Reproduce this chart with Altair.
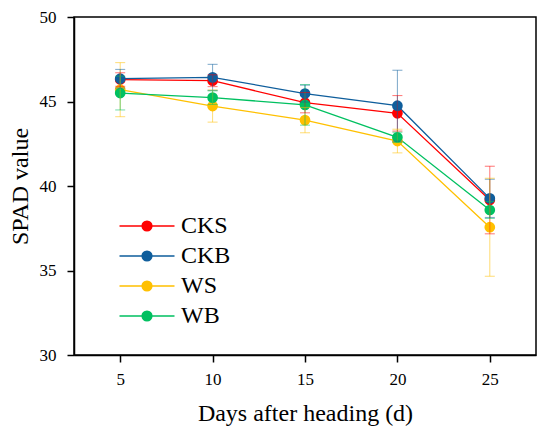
import altair as alt
import pandas as pd

days = [5, 10, 15, 20, 25]
series = ["CKS", "CKB", "WS", "WB"]
colors = ["#FF0000", "#0F5E9C", "#FFC000", "#00C060"]

cks = [46.30, 46.23, 44.93, 44.30, 39.17]
ckb = [46.35, 46.43, 45.47, 44.75, 39.27]
ws = [45.70, 44.73, 43.90, 42.66, 37.56]
wb = [45.50, 45.23, 44.80, 42.88, 38.58]

cks_err = [0.40, 0.35, 0.60, 1.05, 2.00]
ckb_err = [0.55, 0.77, 0.50, 2.10, 1.13]
ws_err = [1.60, 0.95, 0.75, 0.70, 2.90]
wb_err = [1.00, 0.40, 1.20, 0.30, 0.50]

vals = {"CKS": cks, "CKB": ckb, "WS": ws, "WB": wb}
errs = {"CKS": cks_err, "CKB": ckb_err, "WS": ws_err, "WB": wb_err}

rows = []
for s in series:
    for d, v, e in zip(days, vals[s], errs[s]):
        rows.append({"day": d, "value": v, "err": e, "group": s})
df = pd.DataFrame(rows)

FONT = "Liberation Serif"

x = alt.X("day:Q", title="Days after heading (d)",
          scale=alt.Scale(domain=[2.5, 27.5], nice=False, zero=False),
          axis=alt.Axis(values=days, grid=False, labelFont=FONT, titleFont=FONT,
                        labelFontSize=17, titleFontSize=24,
                        labelPadding=9, titlePadding=14, tickSize=7))
y = alt.Y("value:Q", title="SPAD value",
          scale=alt.Scale(domain=[30, 50], nice=False, zero=False),
          axis=alt.Axis(values=[30, 35, 40, 45, 50], grid=False, labelFont=FONT,
                        titleFont=FONT, labelFontSize=17,
                        titleFontSize=24, labelPadding=11, titlePadding=7, tickSize=7))

legend_symbol = "M-5,0L5,0M0.9,0A0.9,0.9 0 1,1 -0.9,0A0.9,0.9 0 1,1 0.9,0Z"


def make_legend():
    return alt.Legend(orient="none", legendX=61, legendY=197, title=None,
                      symbolType=legend_symbol, symbolSize=121,
                      symbolStrokeWidth=1.3, symbolOpacity=1,
                      labelFontSize=24, labelFont=FONT, labelOffset=22,
                      labelColor="black", rowPadding=6)


stroke_scale = alt.Scale(domain=series, range=colors)
fill_scale = alt.Scale(domain=series, range=colors)

base = alt.Chart(df)

lines = base.mark_line(strokeWidth=1.3).encode(
    x=x, y=y,
    stroke=alt.Stroke("group:N", scale=stroke_scale, sort=series, legend=make_legend()),
    detail="group:N",
)

points = base.mark_point(filled=True, shape="circle", size=115, opacity=1, strokeWidth=0).encode(
    x="day:Q", y="value:Q",
    fill=alt.Fill("group:N", scale=fill_scale, sort=series, legend=make_legend()),
)

eb = base.transform_calculate(lo="datum.value - datum.err", hi="datum.value + datum.err")

err_color = alt.Color("group:N", scale=alt.Scale(domain=series, range=colors), legend=None)

rules = eb.mark_rule(strokeWidth=1, opacity=0.55).encode(
    x="day:Q", y="lo:Q", y2="hi:Q", color=err_color,
)
caps_lo = eb.mark_tick(orient="horizontal", size=10, thickness=1, opacity=0.55).encode(
    x="day:Q", y="lo:Q", color=err_color,
)
caps_hi = eb.mark_tick(orient="horizontal", size=10, thickness=1, opacity=0.55).encode(
    x="day:Q", y="hi:Q", color=err_color,
)

chart = alt.layer(lines, points, rules, caps_lo, caps_hi).properties(
    width=462, height=338,
    autosize="none",
    padding={"left": 66, "top": 9, "right": 6, "bottom": 80},
).configure_axis(
    labelFont=FONT, titleFont=FONT, labelColor="black", titleColor="black",
    titleFontWeight="normal", domainColor="black", tickColor="black",
    domainWidth=1.5, tickWidth=1.5,
).configure_view(
    stroke="black", strokeWidth=1.5,
).configure_legend(
    labelFont=FONT,
)

chart.save("out.html", embed_options={"renderer": "svg", "actions": False})
